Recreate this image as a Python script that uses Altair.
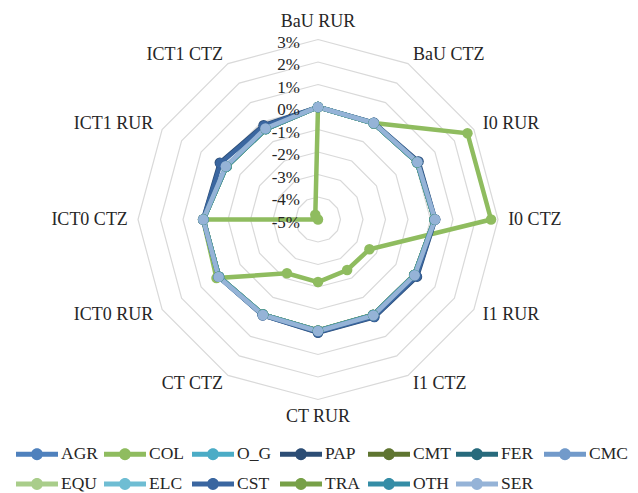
import altair as alt
import pandas as pd

categories = ["BaU RUR", "BaU CTZ", "I0 RUR", "I0 CTZ", "I1 RUR", "I1 CTZ",
              "CT RUR", "CT CTZ", "ICT0 RUR", "ICT0 CTZ", "ICT1 RUR", "ICT1 CTZ"]
series_names = ["AGR", "COL", "O_G", "PAP", "CMT", "FER", "CMC",
                "EQU", "ELC", "CST", "TRA", "OTH", "SER"]
colors = ["#4f81bd", "#8fbc5f", "#4bacc6", "#2c4d75", "#5f7530", "#276a7c", "#729aca",
          "#a9cd8a", "#6fbdd3", "#3a66a0", "#77a047", "#358da6", "#95b3d7"]
tick_values = [-5, -4, -3, -2, -1, 0, 1, 2, 3]
tick_labels = ["-5%", "-4%", "-3%", "-2%", "-1%", "0%", "1%", "2%", "3%"]

# values in percent, one per category
AGR = [0.0, -0.06, 0.08, 0.18, -0.06, -0.10, -0.06, -0.12, 0.08, 0.09, -0.30, -0.36]
COL = [0.0, -0.05, 2.67, 2.69, -2.36, -2.41, -2.22, -2.24, 0.21, 0.11, -5.0, -4.76]
O_G = [0.0, -0.06, 0.08, 0.18, -0.06, -0.10, -0.06, -0.12, 0.08, 0.09, -0.30, -0.36]
PAP = [0.0, -0.03, 0.16, 0.21, 0.08, 0.01, 0.03, -0.08, 0.10, 0.11, 0.04, -0.16]
CMT = [0.0, -0.06, 0.08, 0.18, -0.07, -0.11, -0.07, -0.12, 0.08, 0.09, -0.30, -0.36]
FER = [0.0, -0.06, 0.08, 0.18, -0.06, -0.10, -0.06, -0.12, 0.08, 0.09, -0.29, -0.35]
CMC = [0.0, -0.05, 0.10, 0.20, -0.04, -0.08, -0.04, -0.10, 0.10, 0.10, -0.27, -0.33]
EQU = [0.0, -0.06, 0.08, 0.18, -0.06, -0.10, -0.06, -0.12, 0.08, 0.09, -0.30, -0.36]
ELC = [0.0, -0.06, 0.08, 0.18, -0.06, -0.10, -0.06, -0.12, 0.08, 0.09, -0.30, -0.36]
CST = [0.0, -0.04, 0.13, 0.20, 0.05, -0.01, 0.01, -0.09, 0.10, 0.10, 0.00, -0.20]
TRA = [0.0, -0.06, 0.08, 0.18, -0.06, -0.10, -0.06, -0.12, 0.08, 0.09, -0.30, -0.36]
OTH = [0.0, -0.06, 0.08, 0.18, -0.06, -0.10, -0.06, -0.12, 0.08, 0.09, -0.30, -0.36]
SER = [0.0, -0.05, 0.10, 0.20, -0.04, -0.08, -0.04, -0.10, 0.10, 0.10, -0.27, -0.33]

values = {"AGR": AGR, "COL": COL, "O_G": O_G, "PAP": PAP, "CMT": CMT, "FER": FER,
          "CMC": CMC, "EQU": EQU, "ELC": ELC, "CST": CST, "TRA": TRA, "OTH": OTH, "SER": SER}

rows = []
for s in series_names:
    for i, c in enumerate(categories):
        rows.append({"series": s, "idx": i, "cat": c, "value": values[s][i]})
df = pd.DataFrame(rows)

grid_rows = []
for t in tick_values[1:]:
    for i in range(len(categories)):
        grid_rows.append({"tick": t, "idx": i})
grid_df = pd.DataFrame(grid_rows)
tick_df = pd.DataFrame({"tick": tick_values, "label": tick_labels})
cat_df = pd.DataFrame({"cat": categories, "idx": list(range(len(categories)))})

# geometry
PX = 22.5           # pixels per 1%
W, H = 622, 477
CX, CY = 310, 211.5
xs = alt.Scale(domain=[-CX / PX, (W - CX) / PX], nice=False, zero=False)
ys = alt.Scale(domain=[(CY - H) / PX, CY / PX], nice=False, zero=False)
FONT = "Liberation Serif"
TXT = "#262626"

def polar(ch, rexpr):
    return ch.transform_calculate(
        r=rexpr, ang="datum.idx * PI / 6"
    ).transform_calculate(
        x="datum.r * sin(datum.ang)", y="datum.r * cos(datum.ang)"
    )

X = alt.X("x:Q", scale=xs, axis=None)
Y = alt.Y("y:Q", scale=ys, axis=None)

grid = polar(alt.Chart(grid_df), "datum.tick + 5").mark_line(
    interpolate="linear-closed", stroke="#d9d9d9", strokeWidth=1.2
).encode(x=X, y=Y, detail="tick:N", order="idx:Q")

LEG_PATH = ("M-1,-0.12 L1,-0.12 L1,0.12 L-1,0.12 Z "
            "M0.28,0 A0.28,0.28 0 1,1 -0.28,0 A0.28,0.28 0 1,1 0.28,0 Z")

lines = polar(alt.Chart(df), "datum.value + 5").mark_line(
    interpolate="linear-closed", strokeWidth=4.5
).encode(x=X, y=Y,
         stroke=alt.Stroke("series:N", scale=alt.Scale(domain=series_names, range=colors),
                           legend=None),
         detail="series:N", order="idx:Q")

points = polar(alt.Chart(df), "datum.value + 5").mark_point(
    filled=True, size=110, opacity=1
).encode(
    x=X, y=Y,
    color=alt.Color("series:N", scale=alt.Scale(domain=series_names, range=colors),
                    legend=alt.Legend(
        title=None, orient="none", legendX=8, legendY=425, columns=7,
        direction="horizontal", symbolType=LEG_PATH, symbolSize=1764,
        symbolStrokeWidth=0, labelFont=FONT, labelFontSize=17.5, labelColor=TXT,
        columnPadding=4, rowPadding=-12, gridAlign="all", labelOffset=3,
        symbolOffset=0, padding=0)),
)

tick_text = alt.Chart(tick_df).transform_calculate(
    x="0", y="datum.tick + 5"
).mark_text(align="right", baseline="middle", dx=-18, dy=3, font=FONT,
            fontSize=17, color=TXT).encode(x=X, y=Y, text="label:N")

R_SIDE, R_TB = 8.45, 8.78
cat_base = alt.Chart(cat_df).transform_calculate(
    ang="datum.idx * PI / 6", s="sin(datum.idx * PI / 6)"
)
def cat_layer(filt, align, rad):
    return cat_base.transform_filter(filt).transform_calculate(
        x=f"{rad} * sin(datum.ang)", y=f"{rad} * cos(datum.ang)"
    ).mark_text(align=align, baseline="middle", font=FONT, fontSize=18,
                color=TXT).encode(x=X, y=Y, text="cat:N")

cat_right = cat_layer("datum.s > 0.1", "left", R_SIDE)
cat_left = cat_layer("datum.s < -0.1", "right", R_SIDE)
cat_mid = cat_layer("abs(datum.s) <= 0.1", "center", R_TB)

chart = alt.layer(grid, lines, points, tick_text, cat_right, cat_left, cat_mid).properties(
    width=W, height=H, padding=0
).resolve_scale(color="independent", stroke="independent").configure_view(stroke=None)

chart.save("out.html", embed_options={"renderer": "svg", "actions": False})
